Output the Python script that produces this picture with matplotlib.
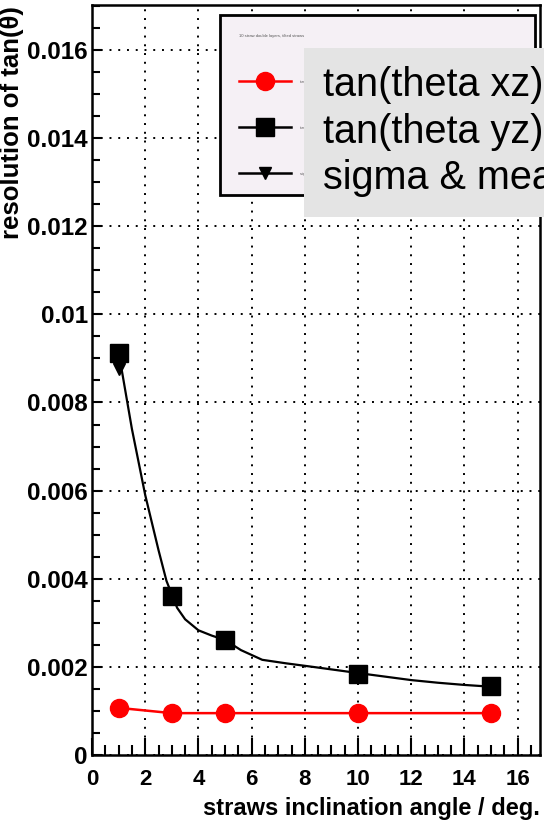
import matplotlib
matplotlib.use("Agg")
import matplotlib.pyplot as plt
from matplotlib.lines import Line2D
from matplotlib.patches import Rectangle
from matplotlib.ticker import MultipleLocator, FuncFormatter

plt.rcParams["font.family"] = ["Liberation Sans", "DejaVu Sans"]

# straws inclination angle (deg)
angles = [1, 3, 5, 10, 15]

# resolution values
res_xz = [0.00107, 0.00095, 0.00095, 0.00095, 0.00095]
res_yz = [0.00912, 0.00361, 0.00261, 0.00184, 0.00156]
res_sigma_mean = [0.00875, 0.00360, 0.00261, 0.00186, 0.00155]

# smooth curve drawn through the sigma & mean points
curve_x = [1.1, 1.5, 2.0, 2.5, 2.8, 3.2, 3.5, 4.0, 4.5, 5.0, 5.6, 6.4, 7.3, 8.3, 10.0, 11.0, 12.0, 13.0, 14.0, 15.0]
curve_y = [0.00880, 0.00740, 0.00590, 0.00465, 0.00395, 0.00334, 0.00308, 0.00283, 0.00271, 0.00261,
           0.00238, 0.00216, 0.00208, 0.00200, 0.00186, 0.00178, 0.00170, 0.00164, 0.00159, 0.00155]

labels = ["tan(theta xz)", "tan(theta yz)", "sigma & mean"]
legend_title = "10 straw double layers, tilted straws"

W, H = 544, 827
fig = plt.figure(figsize=(W / 100, H / 100), dpi=100)
ax = fig.add_axes([92 / W, 1 - 755 / H, 448 / W, 750 / H])

ax.plot(curve_x, curve_y, color="black", lw=1.6, zorder=3)
ax.plot(angles, res_sigma_mean, ls="none", marker="v", color="black", ms=9, zorder=3)
ax.plot(angles, res_xz, color="red", lw=1.8, marker="o", ms=13, zorder=4)
ax.plot(angles, res_yz, ls="none", marker="s", color="black", ms=13, zorder=5)

ax.set_xlim(0, 16.84)
ax.set_ylim(0, 0.01702)

ax.xaxis.set_major_locator(MultipleLocator(2))
ax.xaxis.set_minor_locator(MultipleLocator(0.5))
ax.yaxis.set_major_locator(MultipleLocator(0.002))
ax.yaxis.set_minor_locator(MultipleLocator(0.0005))
ax.yaxis.set_major_formatter(FuncFormatter(lambda v, p: "%g" % round(v, 4)))
ax.xaxis.set_major_formatter(FuncFormatter(lambda v, p: "%g" % v))

ax.tick_params(axis="both", which="both", direction="in", width=1.5, colors="black")
ax.tick_params(axis="x", which="major", length=12, pad=10, labelsize=16)
ax.tick_params(axis="x", which="minor", length=7)
ax.tick_params(axis="y", which="major", length=7, pad=3, labelsize=17.5)
ax.tick_params(axis="y", which="minor", length=6)
for lab in ax.get_xticklabels() + ax.get_yticklabels():
    lab.set_fontweight("bold")

ax.grid(True, which="major", color="black", lw=1.4, linestyle=(0, (1, 3.5)))
for sp in ax.spines.values():
    sp.set_linewidth(1.8)

# legend (ROOT style box)
handles = [
    Line2D([], [], color="red", lw=1.8, marker="o", ms=13),
    Line2D([], [], color="black", lw=1.8, marker="s", ms=13),
    Line2D([], [], color="black", lw=1.8, marker="v", ms=9),
]
leg = ax.legend(handles, labels, title=legend_title, fontsize=3, title_fontsize=3,
                bbox_to_anchor=(220 / W, 1 - 193 / H, 315 / W, 178 / H),
                bbox_transform=fig.transFigure, loc="upper left", mode="expand",
                borderaxespad=0, borderpad=4.6, labelspacing=10, handlelength=12.5,
                handletextpad=2, handleheight=1, alignment="left",
                fancybox=False, framealpha=1, facecolor="#f5f0f5", edgecolor="black")
leg.get_frame().set_linewidth(2)
leg.get_title().set_color("#555555")
for t in leg.get_texts():
    t.set_color("#555555")
leg.set_zorder(10)

# grey overlay box with large labels
fig.patches.append(Rectangle((304 / W, 1 - 217 / H), (W - 304) / W + 0.05, 169 / H,
                             transform=fig.transFigure, facecolor="#e4e4e4",
                             edgecolor="none", zorder=20))
for lab, yc in zip(labels, [85, 132, 178]):
    fig.text(323 / W, 1 - yc / H, lab, fontsize=28.5, va="center", ha="left",
             color="black", zorder=21)

fig.text(12 / W, 1 - 6 / H, "resolution of tan(θ)", rotation=90, ha="center", va="top",
         fontsize=18.5, fontweight="bold")
fig.text(540 / W, 1 - 808 / H, "straws inclination angle / deg.", ha="right", va="center",
         fontsize=17, fontweight="bold")

fig.savefig("out.png", dpi=100)
